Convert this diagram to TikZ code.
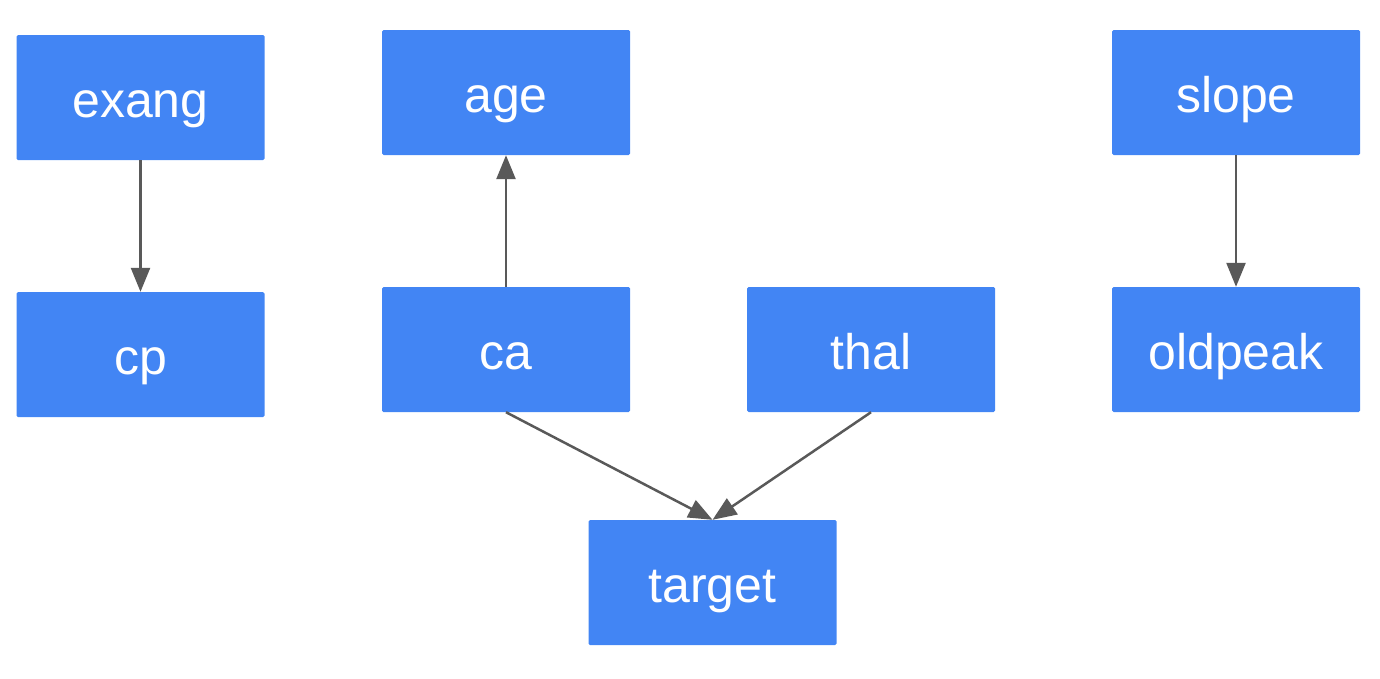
\documentclass[tikz,border=0pt]{standalone}
\usepackage{fontspec}
\setmainfont{Liberation Sans}
\usepackage{xcolor}
\usetikzlibrary{arrows.meta,positioning,calc}
\definecolor{boxblue}{HTML}{4285F4}
\definecolor{arrowgray}{HTML}{595959}
\tikzset{
  var/.style = {fill = boxblue, text = white, rounded corners = 1.5pt,
    minimum width = 248pt, minimum height = 125pt, inner sep = 0pt,
    text height = 40pt, text depth = 0pt,
    font = \fontsize{50}{60}\selectfont},
  edge/.style = {-{Triangle[length = 24pt, width = 19pt]}, draw = arrowgray, line width = 2.5pt}
}
\begin{document}
\begin{tikzpicture}[x = 1pt, y = -1pt]
  \useasboundingbox (0,0) rectangle (1380,678);
  \node[var] (exang) at (140.5,97.5) {exang};
  \node[var] (cp) at (140.5,354.5) {cp};
  \node[var] (age) at (506,92.5) {age};
  \node[var] (ca) at (506,349.5) {ca};
  \node[var] (thal) at (871,349.5) {thal};
  \node[var] (target) at (712.5,582.5) {target};
  \node[var] (slope) at (1236,92.5) {slope};
  \node[var] (oldpeak) at (1236,349.5) {oldpeak};
  \draw[edge] (exang) -- (cp);
  \draw[edge] (ca) -- (age);
  \draw[edge] (ca.south) -- (target.north);
  \draw[edge] (thal.south) -- (target.north);
  \draw[edge] (slope) -- (oldpeak);
\end{tikzpicture}
\end{document}
